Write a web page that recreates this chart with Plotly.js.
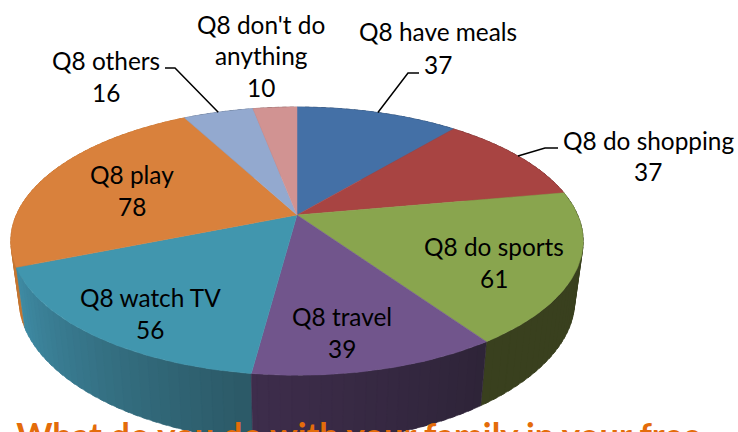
<!DOCTYPE html>
<html><head><meta charset="utf-8">
<script src="https://cdn.plot.ly/plotly-3.0.1.min.js"></script>
<style>html,body{margin:0;padding:0;background:#fff;overflow:hidden}#c{width:738px;height:432px}</style>
</head><body><div id="c"></div>
<script>
// ---- data ----
const categories = ["Q8 have meals","Q8 do shopping","Q8 do sports","Q8 travel","Q8 watch TV","Q8 play","Q8 others","Q8 don't do anything"];
const values = [37,37,61,39,56,78,16,10];
// ---- styles ----
const topColors = ["#4470A6","#A84442","#89A54E","#71558C","#4196AE","#D9813C","#93A9CF","#D19392"];
const wallStart = ["#2D4A6E","#6F2D2C","#39401E","#3E2D4C","#3F8CA5","#C57530","#62708A","#8A6261"];
const wallEnd   = ["#2D4A6E","#6F2D2C","#39401E","#2E2438","#2C5A68","#C57530","#62708A","#8A6261"];
// text lines: [text, x, y]
const labelLines = [
 ["Q8 have meals",438,31],["37",438,64],
 ["Q8 do shopping",648,140],["37",648,171],
 ["Q8 do sports",494,246],["61",494,278],
 ["Q8 travel",342,316],["39",342,348],
 ["Q8 watch TV",150,297],["56",150,329],
 ["Q8 play",132,174],["78",132,206],
 ["Q8 others",106,60],["16",106,92],
 ["Q8 don't do",261,24],["anything",261,55],["10",261,87]
];
const leaderSlices = [0,1,6];
const leaderElbows = [[[408,73],[419,73]],[[545,148],[558,148]],[[175,68],[165,68]]];
const chartTitle = "What do you do with your family in your free";

// ---- tilted-disc projection, angle clockwise from the top ----
const rad = d => d*Math.PI/180;
const cx=297, cy=215, A=280.7, B=129, k=0.195;
function topPt(t){const u=Math.sin(rad(t)),v=Math.cos(rad(t)),d=1+k*v;return [cx+A*u/d, cy-B*v/d];}
function botPt(t){const u=Math.sin(rad(t)),v=Math.cos(rad(t));
  return [cx+0.97*A*u/(1+k*v), cy+61-125*v/(1+0.25*v)];}
function hex2(c){return [1,3,5].map(i=>parseInt(c.substr(i,2),16));}
function mix(a,b,f){const p=hex2(a),q=hex2(b);return "rgb("+p.map((x,i)=>Math.round(x+(q[i]-x)*f)).join(",")+")";}

const total = values.reduce((a,b)=>a+b,0);
const starts=[]; let acc=0; values.forEach(v=>{starts.push(acc/total*360);acc+=v;});
const ends = starts.map((s,i)=>s+values[i]/total*360);
const mids = starts.map((s,i)=>(s+ends[i])/2);

// walls: narrow overlapping bands, so the outline is the true sweep of the rim
const quads=[];
values.forEach((v,i)=>{
  const n = Math.max(2,Math.ceil((ends[i]-starts[i])/2));
  const w = (ends[i]-starts[i])/n;
  for(let j=0;j<n;j++){
    const a=starts[i]+w*j, b=Math.min(ends[i],a+w+1);
    quads.push({a,b,color:mix(wallStart[i],wallEnd[i],(n-1-j)/(n-1))});
  }
});
quads.sort((p,q)=>Math.cos(rad((q.a+q.b)/2))-Math.cos(rad((p.a+p.b)/2)));
const traces=[];
quads.forEach(q=>{
  const P=[topPt(q.a),topPt(q.b),botPt(q.b),botPt(q.a),topPt(q.a)];
  traces.push({type:"scatter",mode:"lines",x:P.map(p=>p[0]),y:P.map(p=>p[1]),fill:"toself",fillcolor:q.color,
    line:{color:q.color,width:0.6},hoverinfo:"skip",showlegend:false});
});
// top face
values.forEach((v,i)=>{
  const P=[[cx,cy]];
  for(let t=starts[i];t<ends[i];t+=1) P.push(topPt(t));
  P.push(topPt(ends[i]),[cx,cy]);
  traces.push({type:"scatter",mode:"lines",x:P.map(p=>p[0]),y:P.map(p=>p[1]),fill:"toself",fillcolor:topColors[i],
    line:{color:topColors[i],width:0.5},name:categories[i],text:categories[i]+": "+v,hoverinfo:"text",showlegend:false});
});

const annotations=labelLines.map(l=>({text:l[0],x:l[1],y:l[2],xref:"x",yref:"y",showarrow:false,xanchor:"center",yanchor:"middle",
  font:{family:"Lato, Carlito, sans-serif",size:24.4,color:"#000"}}));
const shapes=leaderSlices.map((s,i)=>{
  const p=topPt(mids[s]), e=leaderElbows[i];
  return {type:"path",xref:"x",yref:"y",path:`M${p[0]},${p[1]}L${e[0][0]},${e[0][1]}L${e[1][0]},${e[1][1]}`,line:{color:"#000",width:1.5}};
});

Plotly.newPlot("c",traces,{
  width:738,height:432,margin:{l:0,r:0,t:0,b:0},paper_bgcolor:"#fff",plot_bgcolor:"#fff",
  xaxis:{range:[0,738],visible:false,fixedrange:true},
  yaxis:{range:[432,0],visible:false,fixedrange:true},
  showlegend:false,annotations,shapes,
  title:{text:chartTitle,x:0.486,xanchor:"center",y:0.02,yanchor:"top",font:{family:"Lato, Carlito, sans-serif",size:34.6,color:"#E46C0A",weight:700}}
},{displayModeBar:false});
</script></body></html>
